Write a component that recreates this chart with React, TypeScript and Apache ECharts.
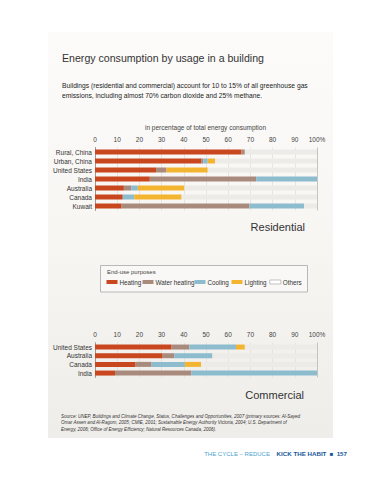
import React, { useEffect, useRef } from 'react';
import * as echarts from 'echarts';

const resCategories = ['Rural, China', 'Urban, China', 'United States', 'India', 'Australia', 'Canada', 'Kuwait'];
const resHeating = [66, 48, 27.5, 24.7, 13, 12.5, 12];
const resWater = [1.5, 0.8, 4.7, 47.9, 3.3, 0, 57.6];
const resCooling = [0, 2, 0, 27.4, 3, 5.2, 24.6];
const resLighting = [0, 3.3, 18.6, 0, 21, 21.3, 0];

const comCategories = ['United States', 'Australia', 'Canada', 'India'];
const comHeating = [34.5, 30.5, 18.3, 9];
const comWater = [8, 5.3, 7.2, 34.4];
const comCooling = [21, 17.1, 15, 56.6];
const comLighting = [4, 0, 7.3, 0];

const purposes = ['Heating', 'Water heating', 'Cooling', 'Lighting', 'Others'];
const purposeColors = ['#c9471e', '#a98b7e', '#8cbccd', '#f3b52f', '#ecebe8'];

const FONT = '"Liberation Sans", Arial, Helvetica, sans-serif';

const sourceLines = [
  'Source: UNEP, Buildings and Climate Change, Status, Challenges and Opportunities, 2007 (primary sources: Al-Sayed',
  'Omar Assen and Al-Ragom, 2005; CMIE, 2001; Sustainable Energy Authority Victoria, 2004; U.S. Department of',
  'Energy, 2006; Office of Energy Efficiency; Natural Resources Canada, 2006).',
];

const legendLefts = [107, 143, 195, 232, 270];

function others(lists: number[][]): number[] {
  return lists[0].map((_, i) => {
    const s = lists.reduce((acc, l) => acc + l[i], 0);
    return Math.max(0, +(100 - s).toFixed(2));
  });
}

function buildSeries(lists: number[][], idx: number, stack: string) {
  const all = [...lists, others(lists)];
  return all.map((data, k) => ({
    name: purposes[k],
    type: 'bar',
    stack,
    xAxisIndex: idx,
    yAxisIndex: idx,
    barWidth: 5,
    data,
    itemStyle: { color: purposeColors[k] },
    emphasis: { disabled: true },
  }));
}

const splitColors = ['#a9a9a9', '#e0e0e0', '#e0e0e0', '#e0e0e0', '#e0e0e0', '#e0e0e0', '#e0e0e0', '#e0e0e0', '#e0e0e0', '#e0e0e0', '#b8b8b8'];

function xAxis(gridIndex: number) {
  return {
    type: 'value',
    gridIndex,
    position: 'top',
    min: 0,
    max: 100,
    interval: 10,
    axisLine: { show: false },
    axisTick: { show: false },
    axisLabel: {
      fontSize: 6.5,
      color: '#444',
      fontFamily: FONT,
      margin: 5,
      formatter: (v: number) => (v === 100 ? '100%' : String(v)),
    },
    splitLine: { show: true, lineStyle: { color: splitColors, width: 0.8 } },
  };
}

function yAxis(gridIndex: number, data: string[]) {
  return {
    type: 'category',
    gridIndex,
    data,
    inverse: true,
    axisLine: { show: true, lineStyle: { color: '#9a9a9a', width: 1 } },
    axisTick: { show: false },
    axisLabel: { fontSize: 6.5, color: '#333', fontFamily: FONT, margin: 3, interval: 0 },
  };
}

export default function App() {
  const ref = useRef<HTMLDivElement>(null);
  useEffect(() => {
    if (!ref.current) return;
    const chart = echarts.init(ref.current, undefined, { renderer: 'svg' });
    const resLists = [resHeating, resWater, resCooling, resLighting];
    const comLists = [comHeating, comWater, comCooling, comLighting];
    chart.setOption({
      animation: false,
      backgroundColor: '#ffffff',
      textStyle: { fontFamily: FONT },
      grid: [
        { left: 95, right: 56, top: 147.5, height: 63 },
        { left: 95, right: 56, top: 342.7, height: 34.7 },
      ],
      xAxis: [xAxis(0), xAxis(1)],
      yAxis: [yAxis(0, resCategories), yAxis(1, comCategories)],
      legend: purposes.map((p, k) => ({
        left: legendLefts[k] - 0.5,
        top: 279,
        padding: 0,
        itemWidth: 11,
        itemHeight: 4,
        icon: 'rect',
        selectedMode: false,
        textStyle: { fontSize: 6.3, color: '#333', fontFamily: FONT, padding: [0, 0, 0, -3] },
        data: [
          k === 4
            ? { name: p, itemStyle: { color: '#ffffff', borderColor: '#9a9a9a', borderWidth: 0.6 } }
            : { name: p },
        ],
      })),
      graphic: [
        {
          type: 'rect',
          z: -20,
          silent: true,
          shape: { x: 48, y: 32, width: 285, height: 406 },
          style: {
            fill: new echarts.graphic.LinearGradient(0, 0, 0, 1, [
              { offset: 0, color: '#fcfbfa' },
              { offset: 0.5, color: '#f7f6f3' },
              { offset: 1, color: '#efedea' },
            ]),
          },
        },
        {
          type: 'rect',
          z: -5,
          silent: true,
          shape: { x: 100.5, y: 265.5, width: 207, height: 26.5 },
          style: { fill: '#f9f8f6', stroke: '#a8a8a8', lineWidth: 0.8 },
        },
        {
          type: 'text',
          x: 62,
          y: 58,
          style: { text: 'Energy consumption by usage in a building', fill: '#333', font: `10.6px ${FONT}`, textVerticalAlign: 'middle' },
        },
        {
          type: 'text',
          x: 62,
          y: 85.5,
          style: {
            text: 'Buildings (residential and commercial) account for 10 to 15% of all greenhouse gas',
            fill: '#222',
            font: `6.7px ${FONT}`,
            textVerticalAlign: 'middle',
          },
        },
        {
          type: 'text',
          x: 62,
          y: 95.5,
          style: {
            text: 'emissions, including almost 70% carbon dioxide and 25% methane.',
            fill: '#222',
            font: `6.7px ${FONT}`,
            textVerticalAlign: 'middle',
          },
        },
        {
          type: 'text',
          x: 205.5,
          y: 127.5,
          style: {
            text: 'in percentage of total energy consumption',
            fill: '#444',
            font: `6.5px ${FONT}`,
            textAlign: 'center',
            textVerticalAlign: 'middle',
          },
        },
        {
          type: 'text',
          x: 305,
          y: 227,
          style: { text: 'Residential', fill: '#333', font: `11px ${FONT}`, textAlign: 'right', textVerticalAlign: 'middle' },
        },
        {
          type: 'text',
          x: 304,
          y: 395,
          style: { text: 'Commercial', fill: '#333', font: `11px ${FONT}`, textAlign: 'right', textVerticalAlign: 'middle' },
        },
        {
          type: 'text',
          x: 107,
          y: 271.5,
          style: { text: 'End-use purposes', fill: '#444', font: `6px ${FONT}`, textVerticalAlign: 'middle' },
        },
        ...sourceLines.map((t, i) => ({
          type: 'text',
          x: 61,
          y: 416.5 + i * 6.4,
          style: { text: t, fill: '#333', font: `italic 4.55px ${FONT}`, textVerticalAlign: 'middle' },
        })),
        {
          type: 'text',
          x: 347,
          y: 453.5,
          style: {
            text: '{a|THE CYCLE – REDUCE}  {b|KICK THE HABIT} {c|■} {b|157}',
            textAlign: 'right',
            textVerticalAlign: 'middle',
            rich: {
              a: { fill: '#4d9fd0', color: '#4d9fd0', fontSize: 6, fontFamily: FONT },
              b: { fill: '#17589a', color: '#17589a', fontSize: 6.2, fontWeight: 'bold', fontFamily: FONT },
              c: { fill: '#17589a', color: '#17589a', fontSize: 6, fontFamily: FONT },
            },
          },
        },
      ],
      series: [...buildSeries(resLists, 0, 'res'), ...buildSeries(comLists, 1, 'com')],
    });
    return () => chart.dispose();
  }, []);
  return (
    <div
      ref={ref}
      style={{ position: 'absolute', left: 0, top: 0, width: 373, height: 480 }}
    />
  );
}
